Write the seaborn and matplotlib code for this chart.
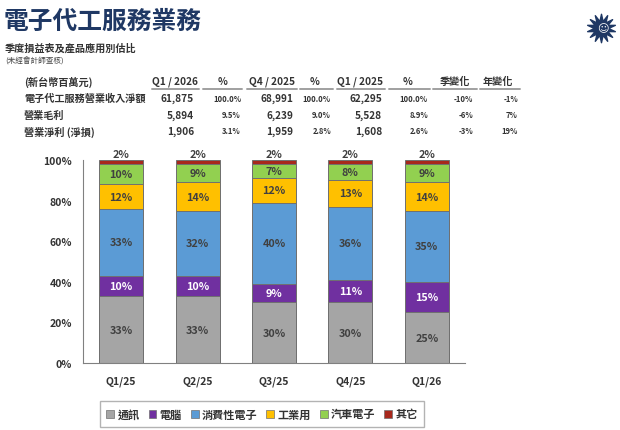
import matplotlib
matplotlib.use("Agg")
import matplotlib.pyplot as plt
import seaborn as sns
import pandas as pd
import numpy as np
from matplotlib.patches import Patch
from matplotlib.lines import Line2D

# chart data (%)
quarters = ["Q1/25", "Q2/25", "Q3/25", "Q4/25", "Q1/26"]
segments = ["通訊", "電腦", "消費性電子", "工業用", "汽車電子", "其它"]
comm = [33, 33, 30, 30, 25]
pc = [10, 10, 9, 11, 15]
consumer = [33, 32, 40, 36, 35]
industrial = [12, 14, 12, 13, 14]
auto = [10, 9, 7, 8, 9]
other = [2, 2, 2, 2, 2]
colors = ["#A5A5A5", "#7030A0", "#5B9BD5", "#FFC000", "#92D050", "#A8281C"]
label_colors = ["#404040", "white", "#404040", "#404040", "#404040", "#404040"]

# income statement table
row_labels = ["電子代工服務營業收入淨額", "營業毛利", "營業淨利 (淨損)"]
col_headers = ["Q1 / 2026", "%", "Q4 / 2025", "%", "Q1 / 2025", "%", "季變化", "年變化"]
q1_2026 = [61875, 5894, 1906]
pct_q1_2026 = [100.0, 9.5, 3.1]
q4_2025 = [68991, 6239, 1959]
pct_q4_2025 = [100.0, 9.0, 2.8]
q1_2025 = [62295, 5528, 1608]
pct_q1_2025 = [100.0, 8.9, 2.6]
qoq = [-10, -6, -3]
yoy = [-1, 7, 19]

sns.set_style("white")
plt.rcParams["font.family"] = ["Noto Sans CJK TC", "DejaVu Sans"]

W, H = 620, 431
fig = plt.figure(figsize=(6.2, 4.31), dpi=100)


def fx(x):
    return x / W


def fy(y):
    return 1 - y / H


navy = "#1F3864"
fig.text(fx(4), fy(22), "電子代工服務業務", fontsize=17.8, fontweight="bold",
         color=navy, va="center", ha="left")
fig.text(fx(5), fy(48), "季度損益表及產品應用別估比", fontsize=7.3, fontweight="bold",
         color="#333333", va="center", ha="left")
fig.text(fx(5), fy(61), "(未經會計師查核)", fontsize=5.5, style="italic",
         color="#444444", va="center", ha="left")

# logo
lax = fig.add_axes([fx(585), fy(45), fx(32), 32 / H])
lax.scatter([0], [0], marker=(14, 1, 0), s=420, color=navy)
lax.text(0.1, 0.0, "☺", color="white", fontsize=8, ha="center", va="center",
         family=["DejaVu Sans"])
lax.set_xlim(-1, 1)
lax.set_ylim(-1, 1)
lax.axis("off")

# table
tcol = "#333333"
header_y = 82
fig.text(fx(24), fy(header_y), "(新台幣百萬元)", fontsize=7.3, fontweight="bold",
         color=tcol, va="center", ha="left")
centers = [175, 223, 272, 315, 360, 408, 455, 498]
spans = [(152, 199), (203, 242), (247, 297), (300, 333), (337, 385),
         (389, 430), (433, 477), (480, 520)]
rights = [194, 241, 293, 331, 382, 428, 473, 518]
for h, c, (a, b) in zip(col_headers, centers, spans):
    fig.text(fx(c), fy(header_y), h, fontsize=7.3, fontweight="bold",
             color=tcol, va="center", ha="center")
    fig.add_artist(Line2D([fx(a), fx(b)], [fy(89.5), fy(89.5)], color="#A0A0A0",
                          lw=1.4))

row_y = [99, 116, 132]
columns = [
    ([f"{v:,}" for v in q1_2026], 7.3),
    ([f"{v:.1f}%" for v in pct_q1_2026], 5.5),
    ([f"{v:,}" for v in q4_2025], 7.3),
    ([f"{v:.1f}%" for v in pct_q4_2025], 5.5),
    ([f"{v:,}" for v in q1_2025], 7.3),
    ([f"{v:.1f}%" for v in pct_q1_2025], 5.5),
    ([f"{v}%" for v in qoq], 5.5),
    ([f"{v}%" for v in yoy], 5.5),
]
for i, (lab, y) in enumerate(zip(row_labels, row_y)):
    fig.text(fx(24), fy(y), lab, fontsize=7.3, fontweight="bold",
             color=tcol, va="center", ha="left")
    for (vals, fs), r in zip(columns, rights):
        fig.text(fx(r), fy(y), vals[i], fontsize=fs, fontweight="bold",
                 color=tcol, va="center", ha="right")

# stacked bar chart
series = [comm, pc, consumer, industrial, auto, other]
df = pd.DataFrame(dict(zip(segments, series)), index=quarters)
cum = df.cumsum(axis=1)

ax = fig.add_axes([fx(83), fy(364), fx(465) - fx(83), (364 - 161) / H])
for seg, col in reversed(list(zip(segments, colors))):
    sns.barplot(x=quarters, y=cum[seg].values, color=col, width=0.575,
                edgecolor="#707070", linewidth=0.7, ax=ax, saturation=1)

for seg, tc in zip(segments, label_colors):
    for i, q in enumerate(quarters):
        val = df.loc[q, seg]
        top = cum.loc[q, seg]
        if seg == "其它":
            ax.text(i, top + 0.4, f"{val}%", ha="center", va="bottom",
                    fontsize=7.8, color="#404040", fontweight="bold")
        else:
            ax.text(i, top - val / 2, f"{val}%", ha="center", va="center",
                    fontsize=7.8, color=tc, fontweight="bold")

ax.set_xlim(-0.5, len(quarters) - 0.5)
ax.set_ylim(0, 100)
ax.set_yticks(range(0, 101, 20))
ax.set_yticklabels([f"{v}%" for v in range(0, 101, 20)])
ax.set_xticks(range(len(quarters)))
ax.set_xticklabels(quarters)
ax.set_xticks(np.arange(len(quarters) + 1) - 0.5, minor=True)
ax.tick_params(axis="x", which="major", length=0, pad=9, labelsize=7.5,
               labelcolor="#333333")
ax.tick_params(axis="x", which="minor", length=3, direction="in", color="#808080")
ax.tick_params(axis="y", which="major", length=3, direction="in", color="#808080",
               labelsize=7.5, labelcolor="#333333", pad=8)
for lbl in ax.get_xticklabels() + ax.get_yticklabels():
    lbl.set_fontweight("bold")
for s in ["top", "right"]:
    ax.spines[s].set_visible(False)
for s in ["left", "bottom"]:
    ax.spines[s].set_color("#808080")
    ax.spines[s].set_linewidth(0.8)

handles = [Patch(facecolor=c, edgecolor="#707070", linewidth=0.5) for c in colors]
leg = fig.legend(handles, segments, ncol=6, loc="center",
                 bbox_to_anchor=(fx(262), fy(415)), frameon=True, fancybox=False,
                 handlelength=0.7, handleheight=0.7, handletextpad=0.3,
                 columnspacing=0.8, borderpad=0.55, edgecolor="#A0A0A0",
                 prop={"weight": "bold", "size": 8})
for t in leg.get_texts():
    t.set_color("#333333")

fig.savefig("out.png", dpi=100)
